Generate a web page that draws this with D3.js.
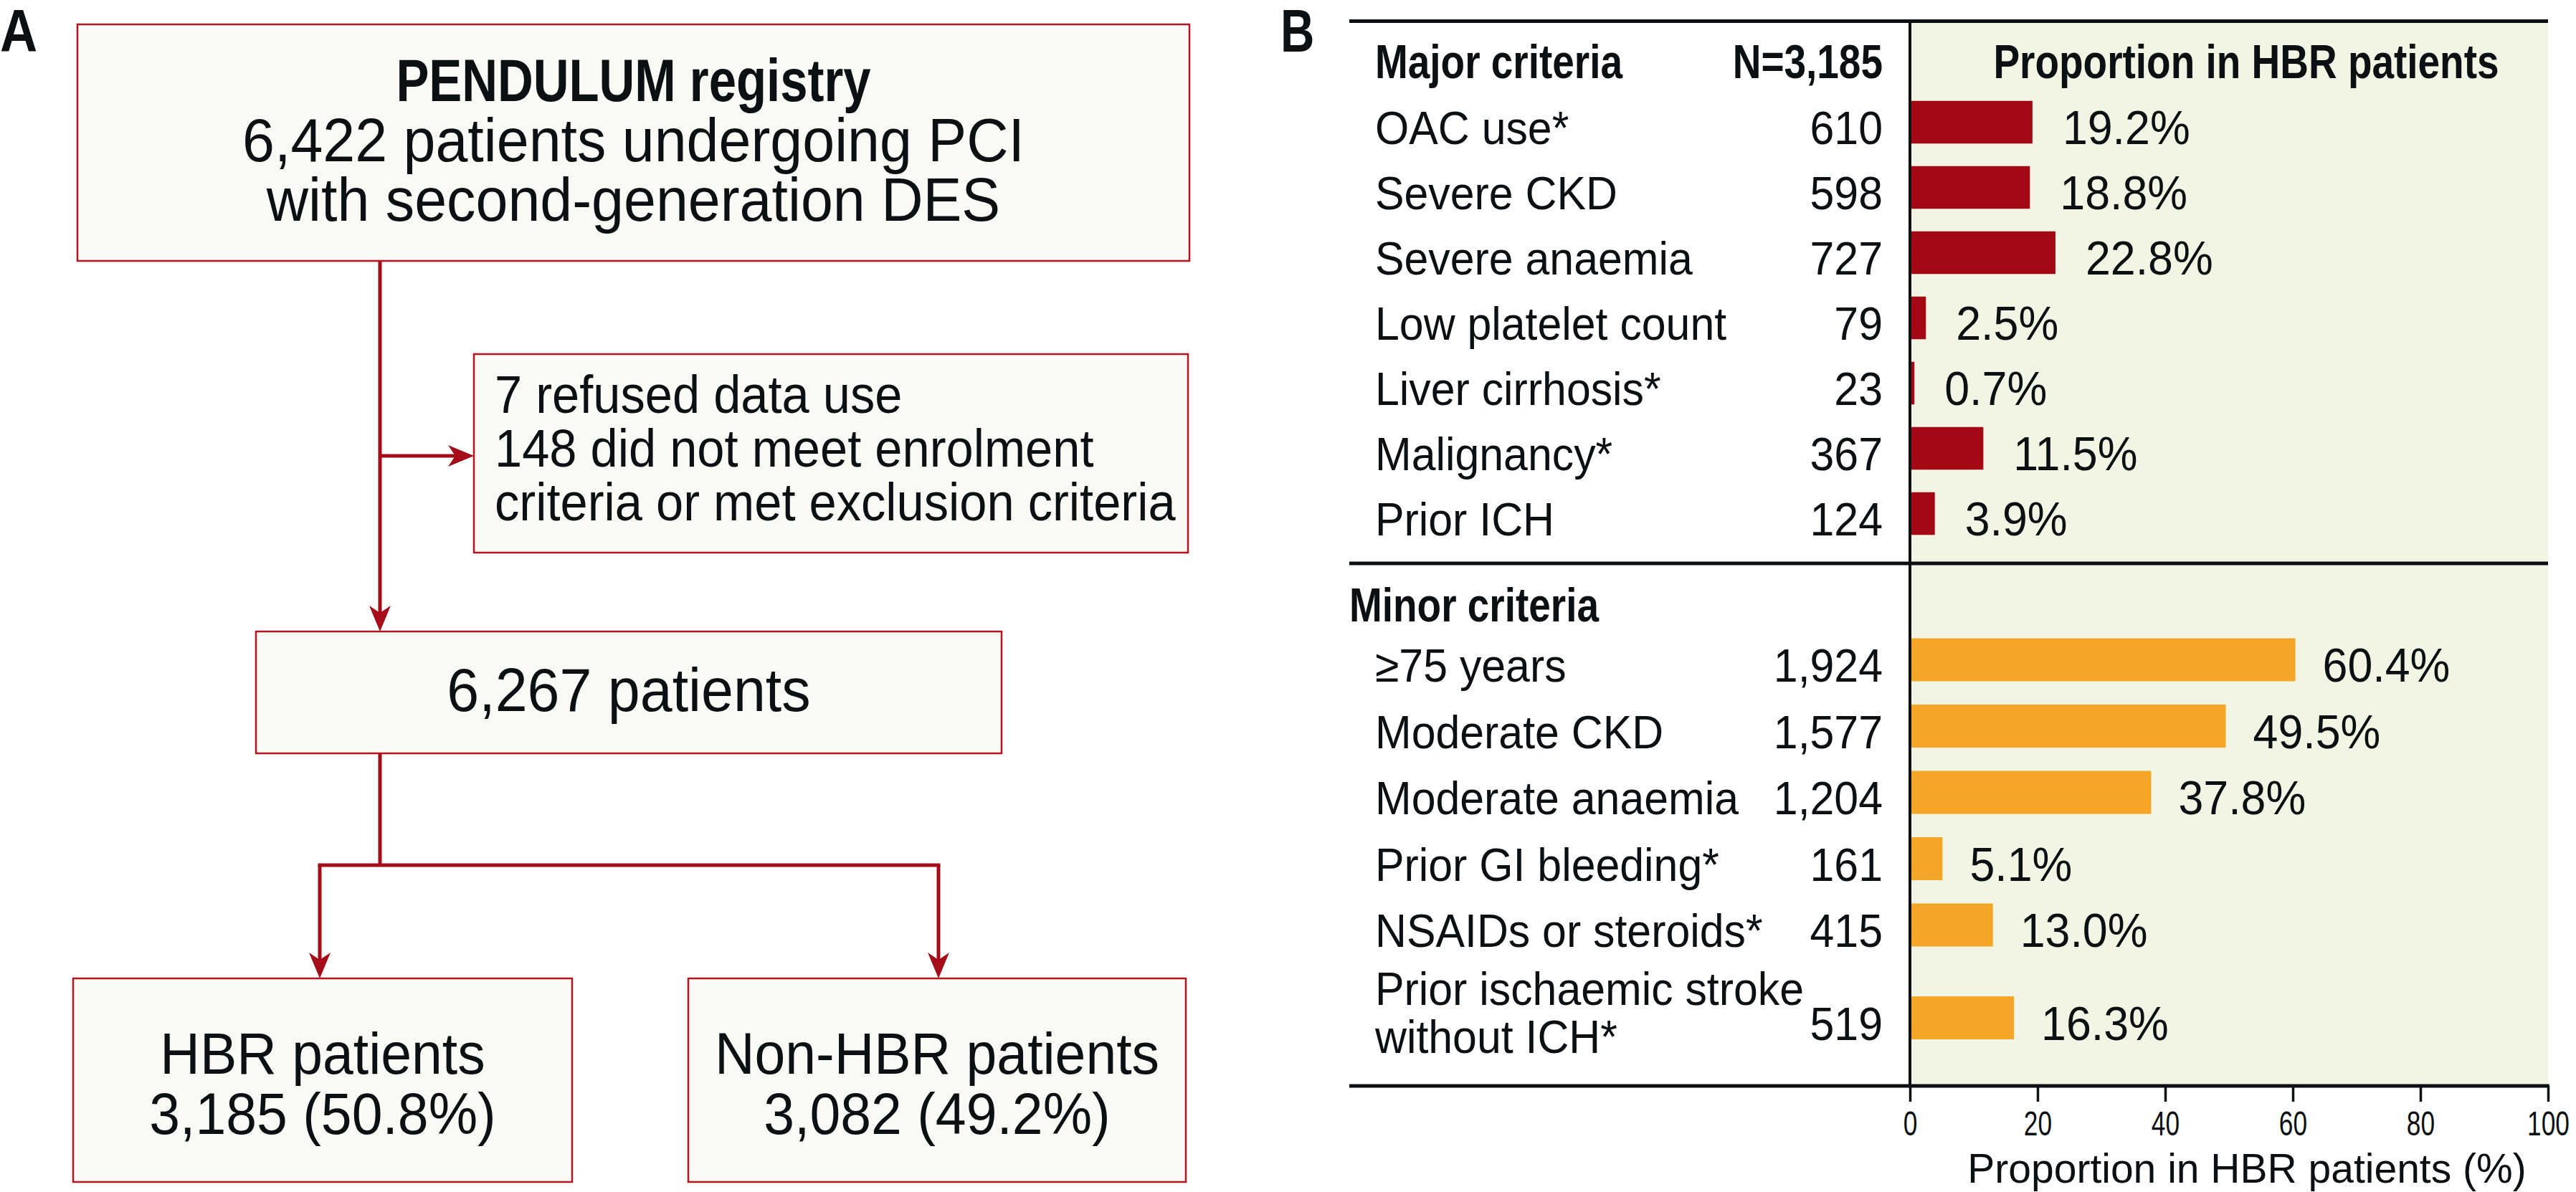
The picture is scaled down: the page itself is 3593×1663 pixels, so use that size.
<!DOCTYPE html>
<html>
<head>
<meta charset="utf-8">
<script src="https://cdn.jsdelivr.net/npm/d3@7"></script>
<style>
  html, body { margin: 0; padding: 0; background: #ffffff; }
  svg { display: block; }
  text { font-family: "Liberation Sans", Arial, sans-serif; fill: #0c1012; }
</style>
</head>
<body>
<svg id="chart" width="3593" height="1663"></svg>
<script>
// ---------------- DATA ----------------
const panelLabels = ["A", "B"];
const registryTitle = "PENDULUM registry";
const registryLines = ["6,422 patients undergoing PCI", "with second-generation DES"];
const excludedLines = ["7 refused data use", "148 did not meet enrolment", "criteria or met exclusion criteria"];
const cohortText = "6,267 patients";
const groupNames = ["HBR patients", "Non-HBR patients"];
const groupCounts = [3185, 3082];
const groupPct = [50.8, 49.2];

const majorHeader = "Major criteria";
const minorHeader = "Minor criteria";
const totalN = 3185;
const proportionHeader = "Proportion in HBR patients";
const axisTitle = "Proportion in HBR patients (%)";

const majorLabels = ["OAC use*", "Severe CKD", "Severe anaemia", "Low platelet count", "Liver cirrhosis*", "Malignancy*", "Prior ICH"];
const majorCounts = [610, 598, 727, 79, 23, 367, 124];
const majorPct = [19.2, 18.8, 22.8, 2.5, 0.7, 11.5, 3.9];

const minorLabels = ["\u226575 years", "Moderate CKD", "Moderate anaemia", "Prior GI bleeding*", "NSAIDs or steroids*", "Prior ischaemic stroke\nwithout ICH*"];
const minorCounts = [1924, 1577, 1204, 161, 415, 519];
const minorPct = [60.4, 49.5, 37.8, 5.1, 13.0, 16.3];

const xTicks = [0, 20, 40, 60, 80, 100];

// ---------------- STYLE ----------------
const RED_LINE = "#a50d18";
const BOX_STROKE = "#b5151f";
const BOX_FILL = "#f9f9f6";
const MAJOR_COLOR = "#a30814";
const MINOR_COLOR = "#f6a626";
const PANEL_BG = "#f3f5e4";
const INK = "#0c1012";

const svg = d3.select("#chart");
const fmtInt = d3.format(",");
const fmtPct = d3.format(".1f");

// condense text horizontally to mimic the condensed typeface
function condense(sel, k) {
  sel.each(function () {
    const len = this.getComputedTextLength();
    if (len > 0) {
      d3.select(this).attr("textLength", len * k).attr("lengthAdjust", "spacingAndGlyphs");
    }
  });
  return sel;
}
function txt(g, x, y, s, size, opts = {}) {
  const t = g.append("text")
    .attr("x", x).attr("y", y)
    .attr("font-size", size)
    .attr("font-weight", opts.bold ? "bold" : "normal")
    .attr("text-anchor", opts.anchor || "start")
    .text(s);
  condense(t, opts.k || (opts.bold ? 0.82 : 0.95));
  return t;
}

// ---------------- PANEL LABELS ----------------
txt(svg, 0, 72, panelLabels[0], 84, { bold: true, k: 0.86 });
txt(svg, 1786, 72, panelLabels[1], 84, { bold: true, k: 0.78 });

// ---------------- PANEL A : FLOW CHART ----------------
const A = svg.append("g");

function box(x0, y0, x1, y1) {
  A.append("rect").attr("x", x0).attr("y", y0).attr("width", x1 - x0).attr("height", y1 - y0)
    .attr("fill", BOX_FILL).attr("stroke", BOX_STROKE).attr("stroke-width", 2.5);
}
function line(x0, y0, x1, y1) {
  A.append("line").attr("x1", x0).attr("y1", y0).attr("x2", x1).attr("y2", y1)
    .attr("stroke", RED_LINE).attr("stroke-width", 5);
}
function arrowDown(x, yTip) {
  A.append("path")
    .attr("d", `M${x},${yTip} L${x - 15},${yTip - 36} L${x},${yTip - 26} L${x + 15},${yTip - 36} Z`)
    .attr("fill", RED_LINE);
}
function arrowRight(xTip, y) {
  A.append("path")
    .attr("d", `M${xTip},${y} L${xTip - 36},${y - 15} L${xTip - 26},${y} L${xTip - 36},${y + 15} Z`)
    .attr("fill", RED_LINE);
}

const trunkX = 530;
// connectors
line(trunkX, 364, trunkX, 870);
arrowDown(trunkX, 881);
line(trunkX, 636, 650, 636);
arrowRight(661, 636);
line(trunkX, 1051, trunkX, 1207);
const leftBranchX = 446, rightBranchX = 1309;
line(leftBranchX - 2.5, 1207, rightBranchX + 2.5, 1207);
line(leftBranchX, 1207, leftBranchX, 1354);
line(rightBranchX, 1207, rightBranchX, 1354);
arrowDown(leftBranchX, 1365);
arrowDown(rightBranchX, 1365);

// boxes
box(108, 34, 1659, 364);
txt(A, 883.5, 141, registryTitle, 84, { bold: true, anchor: "middle" });
registryLines.forEach((s, i) => txt(A, 883.5, 225 + i * 83, s, 85, { anchor: "middle" }));

box(661, 494, 1657, 771);
excludedLines.forEach((s, i) => txt(A, 690, 576 + i * 75, s, 75, { k: 0.915 }));

box(357, 881, 1397, 1051);
txt(A, 877, 992, cohortText, 85, { anchor: "middle" });

const groupBoxes = [[102, 798], [960, 1654]];
groupNames.forEach((name, i) => {
  const [x0, x1] = groupBoxes[i];
  box(x0, 1365, x1, 1649);
  const cx = (x0 + x1) / 2;
  txt(A, cx, 1498, name, 81, { anchor: "middle" });
  txt(A, cx, 1582, `${fmtInt(groupCounts[i])} (${fmtPct(groupPct[i])}%)`, 81, { anchor: "middle" });
});

// ---------------- PANEL B : BAR TABLE ----------------
const B = svg.append("g");
const ruleX0 = 1882;
const x = d3.scaleLinear().domain([0, 100]).range([2664, 3554]);
const topY = 29.5, midY = 786, botY = 1515;
const labelX = 1918, countX = 2626;

B.append("rect").attr("x", x(0)).attr("y", topY).attr("width", x(100) - x(0)).attr("height", botY - topY)
  .attr("fill", PANEL_BG);

// y scales
const yMajor = d3.scaleBand().domain(majorLabels).range([125, 762]).paddingInner(0.346).paddingOuter(0.173);
const minorLines = minorLabels.map(s => s.split("\n"));
const minorPos = [];
{
  let acc = 0;
  minorLines.forEach((ls, i) => {
    const extra = 0.8 * (ls.length - 1);
    minorPos.push(i + acc + extra / 2);
    acc += extra;
  });
}
const yMinor = d3.scaleLinear().domain([0, 1]).range([920.5, 1013]);
const barH = 60;

// headers
txt(B, labelX, 109, majorHeader, 67, { bold: true });
txt(B, countX, 109, "N=" + fmtInt(totalN), 67, { bold: true, anchor: "end" });
txt(B, 3133, 109, proportionHeader, 67, { bold: true, anchor: "middle" });
txt(B, ruleX0, 867, minorHeader, 67, { bold: true });

// major rows
majorLabels.forEach((lab, i) => {
  const y0 = yMajor(lab);
  const base = y0 + yMajor.bandwidth() / 2 + 30.5;
  B.append("rect").attr("x", x(0)).attr("y", y0).attr("width", x(majorPct[i]) - x(0)).attr("height", yMajor.bandwidth())
    .attr("fill", MAJOR_COLOR);
  txt(B, labelX, base, lab, 64);
  txt(B, countX, base, fmtInt(majorCounts[i]), 64, { anchor: "end" });
  txt(B, x(majorPct[i]) + 42, base, fmtPct(majorPct[i]) + "%", 66);
});

// minor rows
minorLabels.forEach((lab, i) => {
  const cy = yMinor(minorPos[i]);
  const base = cy + 30.5;
  B.append("rect").attr("x", x(0)).attr("y", cy - barH / 2).attr("width", x(minorPct[i]) - x(0)).attr("height", barH)
    .attr("fill", MINOR_COLOR);
  const ls = minorLines[i];
  ls.forEach((s, j) => {
    const lb = ls.length === 1 ? base : cy - 18.5 + j * 67;
    txt(B, labelX, lb, s, 64);
  });
  txt(B, countX, base, fmtInt(minorCounts[i]), 64, { anchor: "end" });
  txt(B, x(minorPct[i]) + 38, base, fmtPct(minorPct[i]) + "%", 66);
});

// rules and divider
[topY, midY].forEach(yy => {
  B.append("line").attr("x1", ruleX0).attr("x2", x(100)).attr("y1", yy).attr("y2", yy)
    .attr("stroke", INK).attr("stroke-width", 5);
});
B.append("line").attr("x1", x(0)).attr("x2", x(0)).attr("y1", topY).attr("y2", botY)
  .attr("stroke", INK).attr("stroke-width", 4);

// x axis
const axis = d3.axisBottom(x).tickValues(xTicks).tickSize(22).tickPadding(10).tickFormat(d3.format("d"));
const axG = B.append("g").attr("transform", `translate(0,${botY})`).call(axis);
axG.select(".domain").remove();
axG.selectAll(".tick line").attr("stroke", INK).attr("stroke-width", 3.5);
axG.selectAll(".tick text").attr("font-size", 49).attr("fill", INK)
  .attr("font-family", "'Liberation Sans', Arial, sans-serif").attr("dy", "0.71em").attr("y", 34);
axG.selectAll(".tick text").each(function () {
  const len = this.getComputedTextLength();
  d3.select(this).attr("textLength", len * 0.72).attr("lengthAdjust", "spacingAndGlyphs");
});
B.append("line").attr("x1", ruleX0).attr("x2", x(100) + 1.75).attr("y1", botY).attr("y2", botY)
  .attr("stroke", INK).attr("stroke-width", 5);

txt(B, 3134, 1650, axisTitle, 57, { anchor: "middle", k: 1.0 });
</script>
</body>
</html>
